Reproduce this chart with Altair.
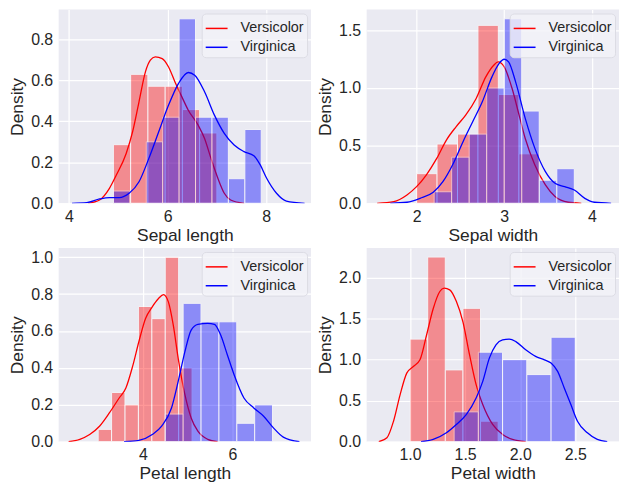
import altair as alt
import pandas as pd

species = ["Versicolor", "Virginica"]
colors = ["red", "blue"]
FONT = "Liberation Sans"
TXT = "#262626"

# ---------- Sepal length ----------
sl_ver_edges = [4.9, 5.25, 5.6, 5.95, 6.3, 6.65, 7.0]
sl_ver_dens = [0.286, 0.629, 0.571, 0.571, 0.457, 0.343]
sl_vir_edges = [4.9, 5.233, 5.567, 5.9, 6.233, 6.567, 6.9, 7.233, 7.567, 7.9]
sl_vir_dens = [0.06, 0.0, 0.30, 0.42, 0.90, 0.42, 0.42, 0.12, 0.36]
sl_ver_kx = [4.39, 4.62, 4.82, 4.96, 5.16, 5.29, 5.42, 5.55, 5.65, 5.75, 5.89, 6.02, 6.15, 6.29, 6.42, 6.62, 6.75, 6.88, 7.02, 7.15, 7.28, 7.55]
sl_ver_ky = [0.0, 0.016, 0.073, 0.138, 0.243, 0.349, 0.495, 0.641, 0.698, 0.714, 0.706, 0.665, 0.592, 0.519, 0.454, 0.381, 0.316, 0.219, 0.122, 0.049, 0.016, 0.0]
sl_vir_kx = [4.06, 4.36, 4.62, 4.82, 5.02, 5.22, 5.42, 5.62, 5.82, 6.02, 6.22, 6.42, 6.55, 6.75, 6.95, 7.15, 7.35, 7.55, 7.75, 7.88, 8.01, 8.21, 8.41, 8.78]
sl_vir_ky = [0.0, 0.003, 0.021, 0.028, 0.028, 0.049, 0.105, 0.219, 0.349, 0.479, 0.584, 0.638, 0.625, 0.544, 0.430, 0.341, 0.284, 0.252, 0.232, 0.187, 0.122, 0.049, 0.011, 0.0]

# ---------- Sepal width ----------
sw_ver_edges = [2.0, 2.233, 2.467, 2.7, 2.933, 3.167, 3.4]
sw_ver_dens = [0.257, 0.514, 0.6, 1.543, 0.943, 0.429]
sw_vir_edges = [2.2, 2.4, 2.6, 2.8, 3.0, 3.2, 3.4, 3.6, 3.8]
sw_vir_dens = [0.1, 0.4, 0.6, 1.0, 1.6, 0.8, 0.2, 0.3]
sw_ver_kx = [1.55, 1.74, 1.89, 2.0, 2.11, 2.23, 2.34, 2.45, 2.56, 2.68, 2.79, 2.88, 2.93, 3.0, 3.09, 3.17, 3.24, 3.35, 3.47, 3.58, 3.73, 3.88]
sw_ver_ky = [0.0, 0.014, 0.072, 0.144, 0.245, 0.389, 0.548, 0.663, 0.764, 0.909, 1.096, 1.197, 1.226, 1.183, 0.995, 0.764, 0.562, 0.332, 0.159, 0.058, 0.009, 0.0]
sw_vir_kx = [1.70, 1.89, 2.04, 2.19, 2.30, 2.41, 2.53, 2.64, 2.75, 2.86, 2.94, 3.0, 3.05, 3.13, 3.24, 3.35, 3.47, 3.58, 3.69, 3.80, 3.92, 4.03, 4.22]
sw_vir_ky = [0.0, 0.009, 0.043, 0.095, 0.187, 0.332, 0.534, 0.707, 0.880, 1.096, 1.211, 1.249, 1.226, 1.053, 0.736, 0.476, 0.274, 0.173, 0.144, 0.115, 0.043, 0.009, 0.0]

# ---------- Petal length ----------
pl_ver_edges = [3.0, 3.3, 3.6, 3.9, 4.2, 4.5, 4.8, 5.1]
pl_ver_dens = [0.067, 0.267, 0.2, 0.733, 0.667, 1.0, 0.4]
pl_vir_edges = [4.5, 4.9, 5.3, 5.7, 6.1, 6.5, 6.9]
pl_vir_dens = [0.15, 0.75, 0.65, 0.65, 0.1, 0.2]
pl_ver_kx = [2.34, 2.59, 2.81, 3.03, 3.25, 3.47, 3.62, 3.77, 3.91, 4.06, 4.21, 4.35, 4.46, 4.57, 4.68, 4.79, 4.94, 5.08, 5.23, 5.45, 5.67]
pl_ver_ky = [0.0, 0.013, 0.039, 0.084, 0.156, 0.237, 0.291, 0.408, 0.542, 0.668, 0.731, 0.776, 0.797, 0.758, 0.632, 0.452, 0.255, 0.129, 0.057, 0.013, 0.0]
pl_vir_kx = [3.58, 3.91, 4.21, 4.42, 4.64, 4.79, 4.94, 5.08, 5.23, 5.45, 5.60, 5.74, 5.89, 6.04, 6.26, 6.48, 6.70, 6.92, 7.14, 7.50]
pl_vir_ky = [0.0, 0.007, 0.039, 0.084, 0.183, 0.327, 0.488, 0.605, 0.636, 0.641, 0.636, 0.578, 0.470, 0.363, 0.237, 0.183, 0.138, 0.075, 0.025, 0.0]

# ---------- Petal width ----------
pw_ver_edges = [1.0, 1.16, 1.32, 1.48, 1.64, 1.8]
pw_ver_dens = [1.25, 2.25, 0.875, 1.625, 0.25]
pw_vir_edges = [1.4, 1.62, 1.84, 2.06, 2.28, 2.5]
pw_vir_dens = [0.364, 1.091, 1.0, 0.818, 1.273]
pw_ver_kx = [0.716, 0.79, 0.85, 0.91, 0.97, 1.03, 1.09, 1.15, 1.21, 1.27, 1.31, 1.36, 1.42, 1.48, 1.54, 1.60, 1.66, 1.75, 1.84, 1.93, 2.05]
pw_ver_ky = [0.0, 0.048, 0.25, 0.574, 0.836, 0.917, 0.998, 1.30, 1.62, 1.83, 1.87, 1.85, 1.71, 1.46, 1.06, 0.695, 0.453, 0.210, 0.089, 0.028, 0.0]
pw_vir_kx = [1.10, 1.21, 1.33, 1.42, 1.51, 1.60, 1.66, 1.72, 1.78, 1.84, 1.90, 1.96, 2.05, 2.14, 2.22, 2.28, 2.34, 2.40, 2.46, 2.52, 2.61, 2.70, 2.79]
pw_vir_ky = [0.0, 0.028, 0.109, 0.21, 0.33, 0.533, 0.735, 1.018, 1.18, 1.24, 1.25, 1.22, 1.12, 1.04, 0.998, 0.958, 0.857, 0.655, 0.453, 0.25, 0.109, 0.028, 0.0]

W, H = 254, 195


def bars_df(edges, dens):
    rows = [{"x": edges[i], "x2": edges[i + 1], "y": d, "b": 0.0}
            for i, d in enumerate(dens) if d > 0]
    return pd.DataFrame(rows)


def kde_df(kx, ky, name):
    return pd.DataFrame({"x": kx, "y": ky, "species": name})


def panel(title, xdom, xticks, xfmt, ydom, yticks,
          ve, vd, ie, idn, vkx, vky, ikx, iky):
    xs = alt.Scale(domain=xdom, nice=False, zero=False)
    ys = alt.Scale(domain=ydom, nice=False, zero=False)
    xax = alt.Axis(values=xticks, format=xfmt, title=title,
                   labelPadding=5, titlePadding=2)
    yax = alt.Axis(values=yticks, format=".1f", title="Density")
    cenc = alt.Color("species:N",
                     scale=alt.Scale(domain=species, range=colors),
                     legend=alt.Legend(
                         title=None, orient="top-right", offset=4,
                         symbolType="stroke", symbolSize=484,
                         symbolStrokeWidth=1.5, labelFontSize=14.5,
                         labelFont=FONT, labelColor=TXT,
                         fillColor="rgba(242,242,247,0.8)",
                         strokeColor="#dcdce4", cornerRadius=4,
                         padding=3, rowPadding=0, labelOffset=12))

    def bar_layer(df, col):
        return alt.Chart(df).mark_rect(
            color=col, opacity=0.4, stroke="white", strokeWidth=1
        ).encode(
            x=alt.X("x:Q", scale=xs, axis=xax), x2="x2:Q",
            y=alt.Y("y:Q", scale=ys, axis=yax), y2="b:Q")

    def line_layer(df):
        return alt.Chart(df).mark_line(
            strokeWidth=1.3, interpolate="monotone", clip=True
        ).encode(
            x=alt.X("x:Q", scale=xs, axis=xax),
            y=alt.Y("y:Q", scale=ys, axis=yax),
            color=cenc)

    return alt.layer(
        bar_layer(bars_df(ve, vd), "red"),
        line_layer(kde_df(vkx, vky, "Versicolor")),
        bar_layer(bars_df(ie, idn), "blue"),
        line_layer(kde_df(ikx, iky, "Virginica")),
    ).properties(width=W, height=H)


p1 = panel("Sepal length", [3.79, 8.91], [4, 6, 8], "d", [0, 0.945],
           [0, 0.2, 0.4, 0.6, 0.8],
           sl_ver_edges, sl_ver_dens, sl_vir_edges, sl_vir_dens,
           sl_ver_kx, sl_ver_ky, sl_vir_kx, sl_vir_ky)
p2 = panel("Sepal width", [1.43, 4.31], [2, 3, 4], "d", [0, 1.68],
           [0, 0.5, 1.0, 1.5],
           sw_ver_edges, sw_ver_dens, sw_vir_edges, sw_vir_dens,
           sw_ver_kx, sw_ver_ky, sw_vir_kx, sw_vir_ky)
p3 = panel("Petal length", [2.117, 7.76], [4, 6], "d", [0, 1.05],
           [0, 0.2, 0.4, 0.6, 0.8, 1.0],
           pl_ver_edges, pl_ver_dens, pl_vir_edges, pl_vir_dens,
           pl_ver_kx, pl_ver_ky, pl_vir_kx, pl_vir_ky)
p4 = panel("Petal width", [0.606, 2.897], [1.0, 1.5, 2.0, 2.5], ".1f",
           [0, 2.36], [0, 0.5, 1.0, 1.5, 2.0],
           pw_ver_edges, pw_ver_dens, pw_vir_edges, pw_vir_dens,
           pw_ver_kx, pw_ver_ky, pw_vir_kx, pw_vir_ky)

row1 = alt.hconcat(p1, p2, spacing=5).resolve_scale(color="independent").resolve_legend(color="independent")
row2 = alt.hconcat(p3, p4, spacing=5).resolve_scale(color="independent").resolve_legend(color="independent")

chart = alt.vconcat(row1, row2, spacing=4).resolve_scale(
    color="independent").resolve_legend(color="independent").properties(
    padding=0
).configure(background="white").configure_view(
    fill="#EAEAF2", stroke=None
).configure_axis(
    grid=True, gridColor="white", gridWidth=1.2, domain=False, ticks=False,
    labelFont=FONT, labelFontSize=16, labelColor=TXT, labelPadding=6,
    titleFont=FONT, titleFontSize=17.5, titleColor=TXT,
    titleFontWeight="normal", titlePadding=4, labelFlush=False,
    labelOverlap=False
)

chart.save("out.html", embed_options={"renderer": "svg", "actions": False})
